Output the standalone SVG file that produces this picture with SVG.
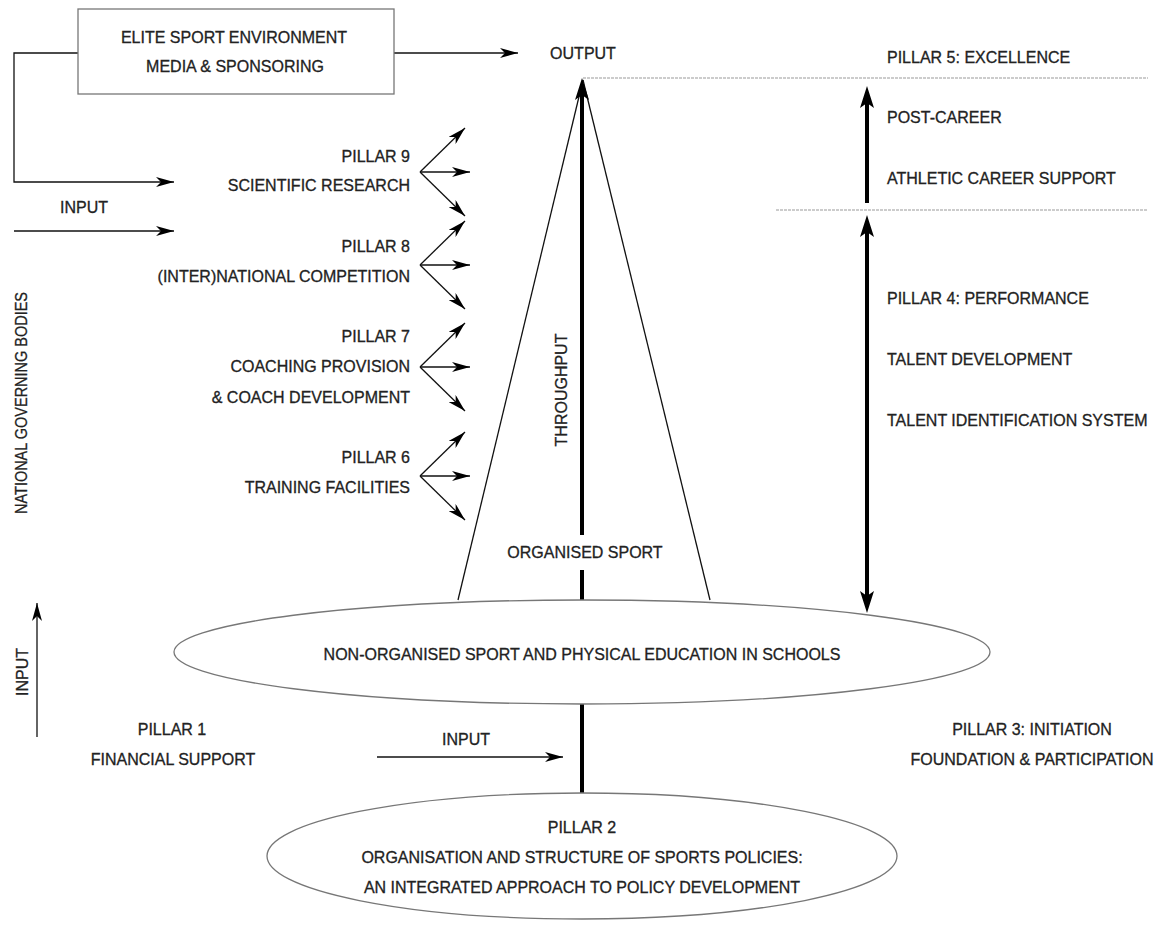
<svg xmlns="http://www.w3.org/2000/svg" width="1160" height="928" viewBox="0 0 1160 928">
  <style>
    text { font-family: "Liberation Sans", Arial, sans-serif; font-size: 16px; fill: #222; stroke: #222; stroke-width: 0.3; }
    .mid { text-anchor: middle; }
    .end { text-anchor: end; }
    .thin { stroke: #111; stroke-width: 1.3; fill: none; }
    .thick { stroke: #000; stroke-width: 4; fill: none; }
    .shape { stroke: #777; stroke-width: 1.3; fill: #fff; }
    .dots { stroke: #999; stroke-width: 1; stroke-dasharray: 3 1; fill: none; }
  </style>
  <defs>
    <marker id="ah" viewBox="0 0 18 10" refX="18" refY="5" markerWidth="18" markerHeight="10" markerUnits="userSpaceOnUse" orient="auto">
      <path d="M0,0 L18,5 L0,10 L5,5 z" fill="#000"/>
    </marker>
    <marker id="ahThick" viewBox="0 0 22 14" refX="10" refY="7" markerWidth="22" markerHeight="14" markerUnits="userSpaceOnUse" orient="auto-start-reverse">
      <path d="M0,0 L22,7 L0,14 L5,7 z" fill="#000"/>
    </marker>
  </defs>

  <!-- connectors -->
  <g id="connectors">
    <!-- elite sport environment feeds output and loops back as input -->
    <line class="thin" x1="394" y1="53" x2="518" y2="53" marker-end="url(#ah)"/>
    <polyline class="thin" points="78,53 14,53 14,182 174,182" marker-end="url(#ah)"/>
    <line class="thin" x1="14" y1="231" x2="174" y2="231" marker-end="url(#ah)"/>
    <line class="thin" x1="37" y1="737" x2="37" y2="603" marker-end="url(#ah)"/>
    <line class="thin" x1="377" y1="757" x2="563" y2="757" marker-end="url(#ah)"/>

    <!-- pillar fans -->
    <g id="fan9">
      <line class="thin" x1="420" y1="172" x2="465" y2="128" marker-end="url(#ah)"/>
      <line class="thin" x1="420" y1="172" x2="470" y2="172" marker-end="url(#ah)"/>
      <line class="thin" x1="420" y1="172" x2="465" y2="216" marker-end="url(#ah)"/>
    </g>
    <g id="fan8">
      <line class="thin" x1="420" y1="265" x2="465" y2="221" marker-end="url(#ah)"/>
      <line class="thin" x1="420" y1="265" x2="470" y2="265" marker-end="url(#ah)"/>
      <line class="thin" x1="420" y1="265" x2="465" y2="309" marker-end="url(#ah)"/>
    </g>
    <g id="fan7">
      <line class="thin" x1="420" y1="367" x2="465" y2="323" marker-end="url(#ah)"/>
      <line class="thin" x1="420" y1="367" x2="470" y2="367" marker-end="url(#ah)"/>
      <line class="thin" x1="420" y1="367" x2="465" y2="411" marker-end="url(#ah)"/>
    </g>
    <g id="fan6">
      <line class="thin" x1="420" y1="476" x2="465" y2="432" marker-end="url(#ah)"/>
      <line class="thin" x1="420" y1="476" x2="470" y2="476" marker-end="url(#ah)"/>
      <line class="thin" x1="420" y1="476" x2="465" y2="520" marker-end="url(#ah)"/>
    </g>

    <!-- pyramid of organised sport -->
    <line class="thin" x1="583" y1="80" x2="458" y2="600"/>
    <line class="thin" x1="583" y1="80" x2="710" y2="600"/>

    <!-- throughput axis -->
    <line class="thick" x1="582" y1="535" x2="582" y2="90" marker-end="url(#ahThick)"/>
    <line class="thick" x1="582" y1="570" x2="582" y2="601"/>
    <line class="thick" x1="582" y1="704" x2="582" y2="794"/>

    <!-- level separators -->
    <line class="dots" x1="583" y1="78" x2="1148" y2="78"/>
    <line class="dots" x1="776" y1="210" x2="1148" y2="210"/>

    <!-- career stages -->
    <line class="thick" x1="867" y1="203" x2="867" y2="98" marker-end="url(#ahThick)"/>
    <line class="thick" x1="867" y1="227" x2="867" y2="601" marker-start="url(#ahThick)" marker-end="url(#ahThick)"/>
  </g>

  <!-- elite sport environment -->
  <g id="elite-environment">
    <rect class="shape" x="78" y="9" width="316" height="85"/>
    <text class="mid" x="234" y="43">ELITE SPORT ENVIRONMENT</text>
    <text class="mid" x="235" y="72">MEDIA &amp; SPONSORING</text>
  </g>

  <g id="output"><text class="mid" x="583" y="59">OUTPUT</text></g>
  <g id="input-top"><text class="mid" x="84" y="213">INPUT</text></g>

  <g id="pillar9">
    <text class="end" x="410" y="162">PILLAR 9</text>
    <text class="end" x="410" y="191">SCIENTIFIC RESEARCH</text>
  </g>
  <g id="pillar8">
    <text class="end" x="410" y="252">PILLAR 8</text>
    <text class="end" x="410" y="282">(INTER)NATIONAL COMPETITION</text>
  </g>
  <g id="pillar7">
    <text class="end" x="410" y="342">PILLAR 7</text>
    <text class="end" x="410" y="372">COACHING PROVISION</text>
    <text class="end" x="410" y="403">&amp; COACH DEVELOPMENT</text>
  </g>
  <g id="pillar6">
    <text class="end" x="410" y="463">PILLAR 6</text>
    <text class="end" x="410" y="493">TRAINING FACILITIES</text>
  </g>

  <g id="throughput">
    <text class="mid" transform="translate(567,390) rotate(-90)">THROUGHPUT</text>
  </g>
  <g id="organised-sport">
    <text class="mid" x="585" y="558">ORGANISED SPORT</text>
  </g>

  <g id="pillar5">
    <text x="887" y="63">PILLAR 5: EXCELLENCE</text>
    <text x="887" y="123">POST-CAREER</text>
    <text x="887" y="184">ATHLETIC CAREER SUPPORT</text>
  </g>
  <g id="pillar4">
    <text x="887" y="304">PILLAR 4: PERFORMANCE</text>
    <text x="887" y="365">TALENT DEVELOPMENT</text>
    <text x="887" y="426">TALENT IDENTIFICATION SYSTEM</text>
  </g>

  <g id="governing-bodies">
    <text class="mid" transform="translate(27,403) rotate(-90)" textLength="222" lengthAdjust="spacingAndGlyphs">NATIONAL GOVERNING BODIES</text>
  </g>
  <g id="input-left">
    <text class="mid" transform="translate(28,672) rotate(-90)">INPUT</text>
  </g>

  <g id="non-organised">
    <ellipse class="shape" cx="582" cy="652" rx="408" ry="52"/>
    <text class="mid" x="582" y="660">NON-ORGANISED SPORT AND PHYSICAL EDUCATION IN SCHOOLS</text>
  </g>

  <g id="pillar1">
    <text class="mid" x="172" y="735">PILLAR 1</text>
    <text class="mid" x="173" y="765">FINANCIAL SUPPORT</text>
  </g>
  <g id="input-bottom"><text class="mid" x="466" y="745">INPUT</text></g>
  <g id="pillar3">
    <text class="mid" x="1032" y="735">PILLAR 3: INITIATION</text>
    <text class="mid" x="1032" y="765">FOUNDATION &amp; PARTICIPATION</text>
  </g>

  <g id="pillar2">
    <ellipse class="shape" cx="582" cy="856" rx="315" ry="63"/>
    <text class="mid" x="582" y="833">PILLAR 2</text>
    <text class="mid" x="582" y="863">ORGANISATION AND STRUCTURE OF SPORTS POLICIES:</text>
    <text class="mid" x="582" y="893">AN INTEGRATED APPROACH TO POLICY DEVELOPMENT</text>
  </g>
</svg>
